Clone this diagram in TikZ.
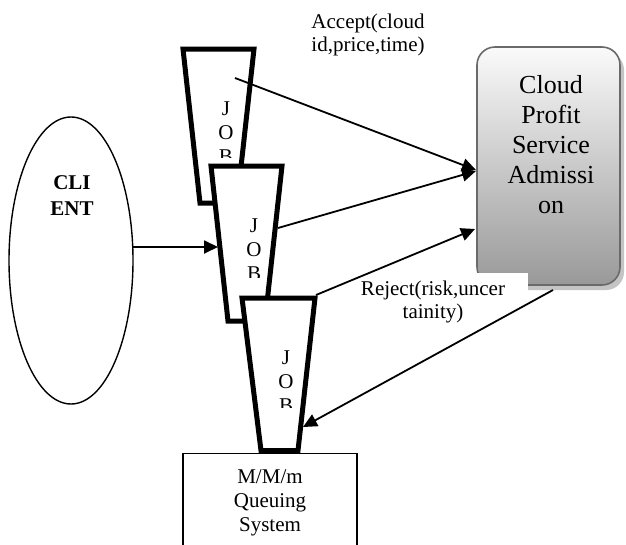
\documentclass[tikz,border=0pt]{standalone}
\usepackage{fontspec}
\setmainfont{Liberation Serif}
\usetikzlibrary{arrows.meta,shapes.geometric,shadows}
\definecolor{cloudedge}{HTML}{6A6A6A}
\definecolor{cloudtop}{HTML}{FAFAFA}
\definecolor{cloudbot}{HTML}{999999}
\definecolor{cloudshadow}{HTML}{C4C4C4}
\begin{document}
\begin{tikzpicture}[x=1pt,y=-1pt,
  jobbox/.style={line width=5pt, fill=white, line join=miter},
  joblbl/.style={font=\fontsize{21}{24}\selectfont, align=center, inner sep=0pt, anchor=north},
  conn/.style={line width=1.8pt, -{Triangle[length=14pt,width=13pt]}},
  lbl/.style={font=\fontsize{21}{23.5}\selectfont, align=center, inner sep=0pt, anchor=north},
  cloudbox/.style={draw=cloudedge, line width=1.6pt, rounded corners=18pt,
    top color=cloudtop, bottom color=cloudbot,
    drop shadow={shadow xshift=4pt, shadow yshift=-5pt, fill=cloudshadow, opacity=1},
    minimum width=143pt, minimum height=238pt, inner sep=0pt},
  clientshape/.style={draw, ellipse, line width=1.4pt, minimum width=124pt, minimum height=287pt, inner sep=0pt},
  queuebox/.style={draw, line width=1.4pt, minimum width=174pt, minimum height=130pt, inner sep=0pt, anchor=north}
]
\clip (0,0) rectangle (626,544);
\fill[white] (0,0) rectangle (626,544);

% client
\node[clientshape] (client) at (71,260.5) {};
\node[lbl, font=\fontsize{21}{26}\selectfont\bfseries] (clienttxt) at (72,175.8) {CLI\\ENT};

% cloud box
\node[cloudbox] (cloud) at (548.5,166) {};
\node[lbl, font=\fontsize{26}{30}\selectfont] (cloudtxt) at (551,75.2) {Cloud\\Profit\\Service\\Admissi\\on};

% queue box
\node[queuebox] (queue) at (270,453) {};
\node[lbl, font=\fontsize{21}{24}\selectfont] (queuetxt) at (270,469.7) {M/M/m\\Queuing\\System};

% job 1
\draw[jobbox] (183,49) -- (254,49) -- (237,203) -- (200,203) -- cycle;
\begin{scope}
  \clip (150,40) rectangle (300,157.5);
  \node[joblbl] (job1) at (226,102) {J\\O\\B};
\end{scope}
\coordinate (j1out) at (235,78);
\coordinate (c1in) at (476,170);
\draw[conn] (j1out) -- (c1in);

% job 2
\draw[jobbox] (211,166) -- (282,166) -- (265,321) -- (228,321) -- cycle;
\begin{scope}
  \clip (180,160) rectangle (320,277);
  \node[joblbl] (job2) at (254,219) {J\\O\\B};
\end{scope}

% job 3
\draw[jobbox] (242,298) -- (315,298) -- (298,450.5) -- (261,450.5) -- cycle;
\begin{scope}
  \clip (210,290) rectangle (350,407.5);
  \node[joblbl] (job3) at (286,351) {J\\O\\B};
\end{scope}

% labels
\node[lbl] (accept) at (368,13.7) {Accept(cloud\\id,price,time)};
\fill[white] (352,273) rectangle (528,332);
\node[lbl] (reject) at (433,280.7) {Reject(risk,uncer\\tainity)};

% connectors
\coordinate (clientout) at (133,247);
\coordinate (j2in) at (218,247);
\coordinate (j2out) at (278,228);
\coordinate (c2in) at (476,171);
\coordinate (j3out) at (316,295);
\coordinate (c3in) at (475,229);
\coordinate (cout) at (553,290);
\coordinate (j3in) at (303,427);
\draw[conn] (clientout) -- (j2in);
\draw[conn] (j2out) -- (c2in);
\draw[conn] (j3out) -- (c3in);
\draw[conn] (cout) -- (j3in);
\end{tikzpicture}
\end{document}
